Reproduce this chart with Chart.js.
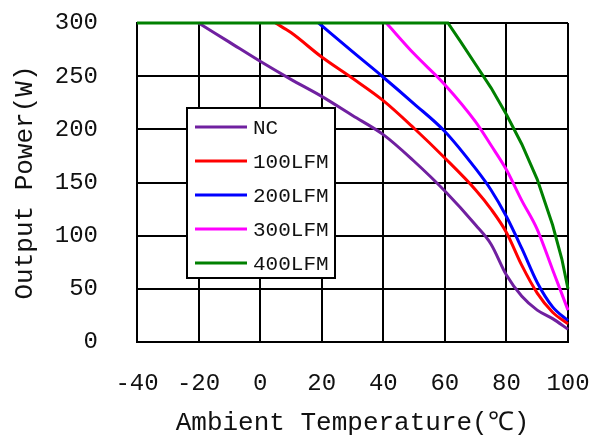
<!DOCTYPE html>
<html>
<head>
<meta charset="utf-8">
<script src="https://cdn.jsdelivr.net/npm/chart.js@4"></script>
<style>
  body { margin: 0; background: #fff; }
</style>
</head>
<body>
<canvas id="myChart" width="589" height="436"></canvas>
<script>
// series data
var seriesNames = ["NC", "100LFM", "200LFM", "300LFM", "400LFM"];

var ncTemp = [-20, -10, 0, 10, 20, 30, 40, 50, 60, 70, 75, 80, 85, 90, 95, 100];
var ncPower = [300, 282, 264, 247, 231, 213, 195, 170, 142, 110, 92, 63, 43, 30, 22, 12];

var lfm100Temp = [5, 10, 20, 30, 40, 50, 60, 70, 75, 80, 85, 90, 95, 100];
var lfm100Power = [300, 291, 268, 248, 227, 201, 173, 143, 125, 103, 72, 46, 28, 17];

var lfm200Temp = [19, 30, 40, 50, 60, 70, 75, 80, 85, 90, 95, 100];
var lfm200Power = [300, 273, 249, 224, 198, 163, 143, 118, 88, 56, 33, 20];

var lfm300Temp = [41, 50, 60, 70, 75, 80, 85, 90, 95, 100];
var lfm300Power = [300, 271, 242, 207, 185, 162, 133, 106, 68, 30];

var lfm400Temp = [-40, 61, 65, 70, 75, 80, 85, 90, 95, 98, 100];
var lfm400Power = [300, 300, 283, 261, 239, 214, 186, 153, 110, 78, 50];

var xTicks = [-40, -20, 0, 20, 40, 60, 80, 100];
var yTicks = [0, 50, 100, 150, 200, 250, 300];

var colors = ["#7020a0", "#ff0000", "#0000ff", "#ff00ff", "#008000"];

function toPoints(xs, ys) {
  var pts = [];
  for (var i = 0; i < xs.length; i++) {
    pts.push({ x: xs[i], y: ys[i] });
  }
  return pts;
}

var allTemps = [ncTemp, lfm100Temp, lfm200Temp, lfm300Temp, lfm400Temp];
var allPowers = [ncPower, lfm100Power, lfm200Power, lfm300Power, lfm400Power];

var datasets = [];
for (var s = 0; s < seriesNames.length; s++) {
  var isTop = s === 4;
  datasets.push({
    label: seriesNames[s],
    data: toPoints(allTemps[s], allPowers[s]),
    borderColor: colors[s],
    backgroundColor: colors[s],
    borderWidth: 3,
    pointRadius: 0,
    clip: false,
    // 400LFM has a hard corner where it leaves the 300W limit
    cubicInterpolationMode: isTop ? "default" : "monotone",
    tension: 0,
    order: isTop ? 0 : 1
  });
}

var monoFont = "'Liberation Mono', 'DejaVu Sans Mono', monospace";

// no label overhang, so the plot area sits where layout.padding says
function noOverhang(axis) {
  axis.paddingTop = 0;
  axis.paddingBottom = 0;
  axis.paddingLeft = 0;
  axis.paddingRight = 0;
}

// legend box drawn inside the plot area, like the original
var boxLegend = {
  id: "boxLegend",
  afterDatasetsDraw: function (chart) {
    var ctx = chart.ctx;
    var area = chart.chartArea;
    var x0 = area.left + 50;
    var y0 = area.top + 85;
    var w = 148;
    var h = 170;
    ctx.save();
    ctx.fillStyle = "#fff";
    ctx.fillRect(x0, y0, w, h);
    ctx.strokeStyle = "#000";
    ctx.lineWidth = 2;
    ctx.strokeRect(x0, y0, w, h);
    ctx.font = "21px " + monoFont;
    ctx.textBaseline = "middle";
    chart.data.datasets.forEach(function (ds, i) {
      var y = y0 + 19 + i * 34;
      ctx.strokeStyle = ds.borderColor;
      ctx.lineWidth = 3;
      ctx.beginPath();
      ctx.moveTo(x0 + 8, y);
      ctx.lineTo(x0 + 60, y);
      ctx.stroke();
      ctx.fillStyle = "#111";
      ctx.fillText(ds.label, x0 + 66, y + 1);
    });
    ctx.restore();
  }
};

var ctx = document.getElementById("myChart").getContext("2d");
var chart = new Chart(ctx, {
  type: "line",
  data: { datasets: datasets },
  options: {
    responsive: false,
    animation: false,
    layout: { padding: { top: 23, right: 21, left: 0, bottom: 0 } },
    plugins: {
      legend: { display: false },
      tooltip: { enabled: false }
    },
    scales: {
      x: {
        type: "linear",
        min: -40,
        max: 100,
        afterBuildTicks: function (axis) {
          axis.ticks = xTicks.map(function (v) { return { value: v }; });
        },
        afterFit: function (axis) {
          axis.height = 94;
          noOverhang(axis);
        },
        grid: { color: "#000", lineWidth: 2, drawTicks: false },
        border: { color: "#000", width: 2 },
        ticks: {
          padding: 27,
          color: "#111",
          maxRotation: 0,
          font: { family: monoFont, size: 24 }
        },
        title: {
          display: true,
          text: "Ambient Temperature(℃)",
          color: "#111",
          padding: { top: 0, bottom: 0 },
          font: { family: monoFont, size: 26, lineHeight: 1.0 }
        }
      },
      y: {
        min: 0,
        max: 300,
        afterBuildTicks: function (axis) {
          axis.ticks = yTicks.map(function (v) { return { value: v }; });
        },
        afterFit: function (axis) {
          axis.width = 137;
          noOverhang(axis);
        },
        grid: { color: "#000", lineWidth: 2, drawTicks: false },
        border: { color: "#000", width: 2 },
        ticks: {
          padding: 39,
          color: "#111",
          font: { family: monoFont, size: 24 }
        },
        title: {
          display: true,
          text: "Output Power(W)",
          color: "#111",
          padding: { top: 10, bottom: 0 },
          font: { family: monoFont, size: 26, lineHeight: 1.2 }
        }
      }
    }
  },
  plugins: [boxLegend]
});
</script>
</body>
</html>
